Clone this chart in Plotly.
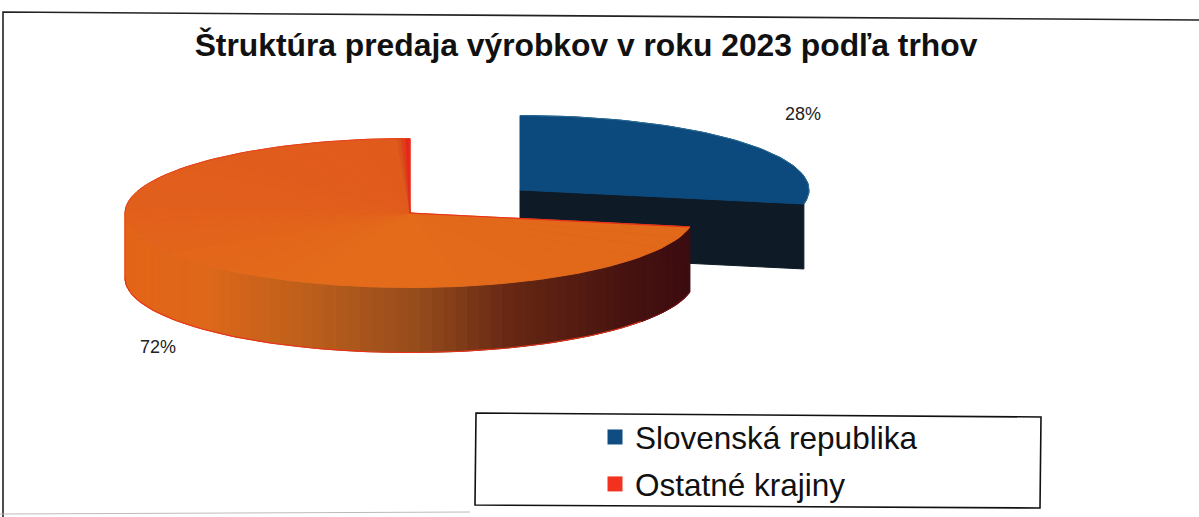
import math
import plotly.graph_objects as go

# ---- data ----
categories = ["Slovenská republika", "Ostatné krajiny"]
shares = [28, 72]
colors_top = ["#0C4A7E", "#E4621C"]
legend_colors = ["#0F4C81", "#F2321E"]
title = "Štruktúra predaja výrobkov v roku 2023 podľa trhov"

# ---- pie projection (styling only) ----
RX, RY, DEPTH = 285, 74.5, 65
BLUE_C = (520, 190)
BLUE_RX = 289
ORANGE_C = (410, 213)
W, H = 1199, 517


def pt(c, a, dy=0, rx=RX):
    r = math.radians(a)
    return c[0] + rx * math.sin(r), c[1] - RY * math.cos(r) + dy


def arc(c, a0, a1, dy=0, n=60, rx=RX):
    return [pt(c, a0 + (a1 - a0) * i / n, dy, rx) for i in range(n + 1)]


def lerp(stops, t):
    for (t0, c0), (t1, c1) in zip(stops, stops[1:]):
        if t <= t1:
            f = (t - t0) / (t1 - t0) if t1 > t0 else 0
            return "rgb(%d,%d,%d)" % tuple(c0[i] + (c1[i] - c0[i]) * f for i in range(3))
    return "rgb(%d,%d,%d)" % stops[-1][1]


def poly(points, fill, line=None, width=0):
    return go.Scatter(
        x=[p[0] for p in points] + [points[0][0]],
        y=[p[1] for p in points] + [points[0][1]],
        mode="lines", fill="toself", fillcolor=fill,
        line=dict(color=line or fill, width=width if line else 1),
        hoverinfo="skip", showlegend=False,
    )


def stroke(points, color, width):
    return go.Scatter(x=[p[0] for p in points], y=[p[1] for p in points], mode="lines",
                      line=dict(color=color, width=width), hoverinfo="skip", showlegend=False)


fig = go.Figure()
split = shares[0] / sum(shares) * 360

# blue wedge: cut wall, top
tip = pt(BLUE_C, split, rx=BLUE_RX)
fig.add_trace(poly([BLUE_C, tip, (tip[0], tip[1] + DEPTH), (BLUE_C[0], BLUE_C[1] + DEPTH)], "#0E1B26"))
fig.add_trace(poly([BLUE_C] + arc(BLUE_C, 0, split, rx=BLUE_RX), colors_top[0]))
fig.add_trace(stroke(arc(BLUE_C, 0, split, rx=BLUE_RX), "#2A6A94", 1))

# orange outer wall, shaded from right (dark) to left (bright)
side_stops = [(0.0, (60, 12, 16)), (0.12, (72, 20, 16)), (0.32, (104, 40, 20)), (0.48, (150, 76, 28)),
              (0.68, (190, 96, 28)), (0.85, (222, 104, 26)), (1.0, (228, 100, 24))]
N = 70
for i in range(N):
    a0 = split + (270 - split) * i / N
    a1 = split + (270 - split) * (i + 1) / N
    mid = (a0 + a1) / 2
    t = (pt(ORANGE_C, split)[0] - pt(ORANGE_C, mid)[0]) / (2 * RX)
    t = max(0, min(1, t))
    fig.add_trace(poly(arc(ORANGE_C, a0, a1, 0, 3) + arc(ORANGE_C, a1, a0, DEPTH, 3), lerp(side_stops, t)))

# orange top face
top_stops = [(0.0, (226, 104, 26)), (0.35, (228, 108, 26)), (0.65, (226, 96, 28)), (1.0, (224, 90, 28))]
M = 30
end = 357.4
for i in range(M):
    a0 = split + (end - split) * i / M
    a1 = split + (end - split) * (i + 1) / M
    fig.add_trace(poly([ORANGE_C] + arc(ORANGE_C, a0, a1, 0, 4), lerp(top_stops, i / M)))
for i, c in enumerate(["#D9521C", "#DE3E1A", "#E4271A"]):
    a0 = end + (360 - end) * i / 3
    a1 = end + (360 - end) * (i + 1) / 3
    fig.add_trace(poly([ORANGE_C] + arc(ORANGE_C, a0, a1, 0, 3), c))

# red rim lines: back of the top face, the cut edge, lower front edge
fig.add_trace(stroke([pt(ORANGE_C, 0), ORANGE_C, pt(ORANGE_C, split)], "#E9301A", 1.2))
fig.add_trace(stroke(arc(ORANGE_C, 270, 360, 0, 60), "#E9401A", 1))
fig.add_trace(stroke([pt(ORANGE_C, 270, DEPTH)] + [pt(ORANGE_C, 270)], "#E8481A", 1))
fig.add_trace(stroke(arc(ORANGE_C, split + 25, 270, DEPTH, 90), "#E6331A", 1.1))
fig.add_trace(stroke(arc(ORANGE_C, split, split + 25, DEPTH, 30), "#7A0F14", 1.1))

# legend entries
for name, col in zip(categories, legend_colors):
    fig.add_trace(go.Scatter(x=[None], y=[None], mode="markers", name=name, legendgroup=name,
                             marker=dict(symbol="square", size=15, color=col)))

fig.update_layout(
    width=W, height=H, margin=dict(l=0, r=0, t=0, b=0),
    paper_bgcolor="white", plot_bgcolor="white",
    xaxis=dict(range=[0, W], visible=False, fixedrange=True),
    yaxis=dict(range=[H, 0], visible=False, fixedrange=True),
    title=dict(text="<b>" + title + "</b>", x=586 / W, xanchor="center", y=1 - 45 / H, yanchor="middle",
               font=dict(family="Liberation Sans", size=31.8, color="#111111")),
    legend=dict(x=595 / W, xanchor="left", y=1 - 410 / H, yanchor="top", bgcolor="rgba(0,0,0,0)",
                font=dict(family="Liberation Sans", size=31.5, color="#111111"),
                tracegroupgap=3, itemclick=False, itemdoubleclick=False),
    shapes=[
        dict(type="path", path="M3,517 L3,12 L1199,20", line=dict(color="#222222", width=1.6)),
        dict(type="path", path="M0,514 L470,512", line=dict(color="#BBBBBB", width=1)),
        dict(type="path", path="M476,413 L1041,417 L1040,508 L475,505 Z", line=dict(color="#111111", width=1.6)),
    ],
    annotations=[
        dict(x=803, y=114, text=f"{shares[0]}%", showarrow=False,
             font=dict(family="Liberation Sans", size=18, color="#222222")),
        dict(x=158, y=347, text=f"{shares[1]}%", showarrow=False,
             font=dict(family="Liberation Sans", size=18, color="#222222")),
    ],
)

fig.write_html("out.html", config={"displayModeBar": False},
               post_script="document.body.style.margin='0';")
